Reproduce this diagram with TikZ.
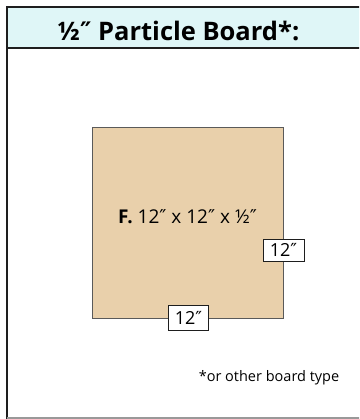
\documentclass[tikz,border=0pt]{standalone}
\usepackage{fontspec}
\setmainfont{Open Sans}
\newfontfamily\primefont{DejaVu Sans}
\newcommand{\inch}{{\primefont ″}}
\usetikzlibrary{positioning}
\definecolor{headfill}{HTML}{DFF6F7}
\definecolor{boardtan}{HTML}{E9D0AB}
\definecolor{edgeink}{HTML}{5A5A5A}
\definecolor{ink}{HTML}{1E1E1E}
\tikzset{
  frameline/.style={draw=ink,line width=2pt},
  board/.style={draw=edgeink,line width=0.8pt,fill=boardtan,minimum size=191pt,inner sep=0pt},
  dimtag/.style={draw=ink,line width=0.7pt,fill=white,font=\fontsize{18}{18}\selectfont,
    inner sep=0pt,minimum width=41pt,minimum height=22pt}
}

\begin{document}
\begin{tikzpicture}[x=1pt,y=-1pt]
 \useasboundingbox (0,0) rectangle (359,419);
 \clip (0,0) rectangle (359,419);
 % header band and frame
 \fill[headfill] (6.5,7) rectangle (365,48);
 \draw[frameline] (365,7) -- (6.5,7) -- (6.5,419);
 \draw[frameline] (6.5,48) -- (365,48);
 \draw[draw=gray!80,line width=1.5pt] (6.5,418) -- (365,418);
 \node[font=\fontsize{25.5}{25.5}\selectfont\bfseries] (title) at (178.5,31) {½\inch{} Particle Board*:};
 % the board
 \node[board] (sheet) at (187.5,222.5) {};
 \node[font=\fontsize{19}{19}\selectfont] (cut) at ([yshift=5.5pt]sheet.center) {\textbf{F.} 12\inch{} x 12\inch{} x ½\inch};
 \node[dimtag] (side) at ([yshift=-27.5pt]sheet.east) {12\inch};
 \node[dimtag,minimum width=40pt,minimum height=25pt] (base) at ([xshift=1pt,yshift=0.5pt]sheet.south) {12\inch};
 \node[font=\fontsize{14.5}{14.5}\selectfont] (note) at (269,378) {*or other board type};
\end{tikzpicture}
\end{document}
